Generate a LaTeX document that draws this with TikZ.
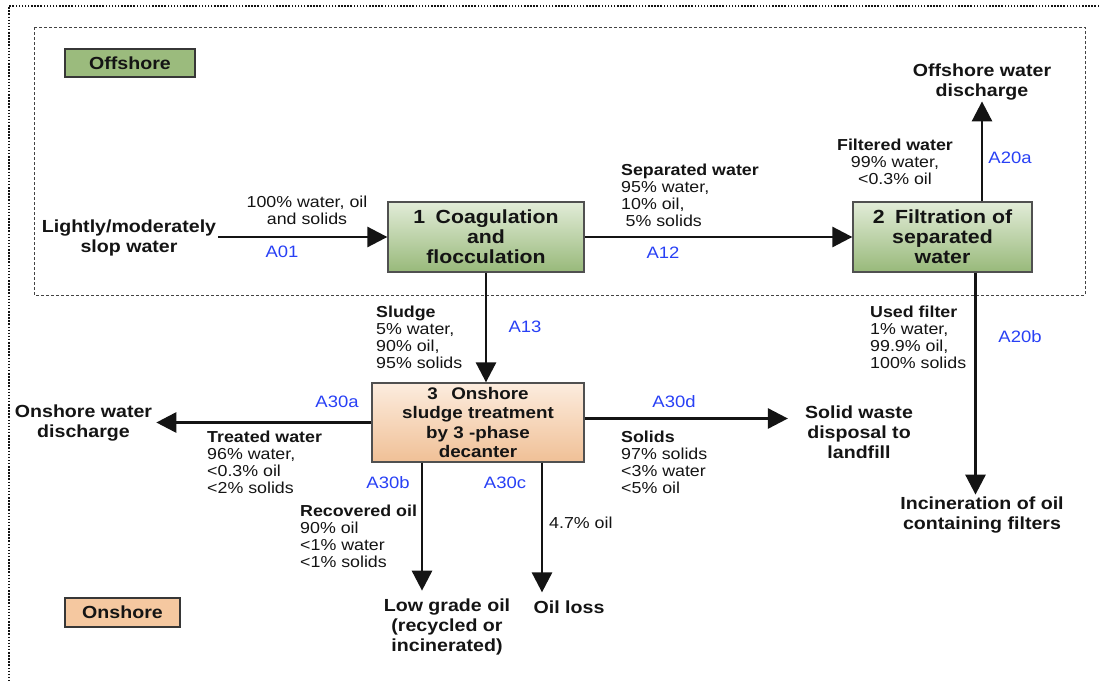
\documentclass[tikz,border=0pt]{standalone}
\usepackage{fontspec}
\setmainfont{Liberation Sans}[FakeStretch=1.12]
\usetikzlibrary{arrows.meta}

\definecolor{ink}{RGB}{20,20,20}
\definecolor{flowblue}{RGB}{40,64,245}
\definecolor{grnTop}{RGB}{226,236,216}
\definecolor{grnBot}{RGB}{152,185,122}
\definecolor{orgTop}{RGB}{252,236,222}
\definecolor{orgBot}{RGB}{240,192,150}
\definecolor{grnTag}{RGB}{155,187,125}
\definecolor{orgTag}{RGB}{245,200,160}
\definecolor{boxline}{RGB}{80,80,80}

\begin{document}
\begin{tikzpicture}[x=1pt,y=-1pt,
  flow/.style={draw=ink, line width=2.8pt, -{Triangle[length=20pt,width=20pt]}},
  proc/.style={draw=boxline, line width=1.3pt, align=center, text=ink, inner sep=0pt},
  greenproc/.style={proc, top color=grnTop, bottom color=grnBot,
    font=\fontsize{19}{20}\selectfont\bfseries},
  orangeproc/.style={proc, top color=orgTop, bottom color=orgBot,
    font=\fontsize{16.8}{19.5}\selectfont\bfseries},
  zonetag/.style={draw=ink!85, line width=1.3pt, text=ink, inner sep=0pt,
    font=\fontsize{17.5}{20}\selectfont\bfseries},
  endpoint/.style={align=center, text=ink, inner sep=2pt,
    font=\fontsize{17.5}{20}\selectfont\bfseries},
  stream/.style={align=left, anchor=west, text=ink, inner sep=0pt,
    font=\fontsize{15.9}{17}\selectfont},
  streamc/.style={align=center, text=ink, inner sep=0pt,
    font=\fontsize{15.9}{17}\selectfont},
  flowid/.style={text=flowblue, inner sep=0pt, font=\fontsize{16.5}{18}\selectfont},
  outerframe/.style={draw=ink, line width=1.5pt, dash pattern=on 1.5pt off 1.6pt},
  zoneframe/.style={draw=ink!80, line width=0.8pt, dash pattern=on 3pt off 2pt}
]
\useasboundingbox (0,0) rectangle (1099,680);

% frames
\draw[outerframe] (1099,6) -- (9,6) -- (9,680);
\draw[zoneframe] (34,27) rectangle (1085,295);

% zone tags
\node[zonetag, fill=grnTag, minimum width=130pt, minimum height=28pt] (offtag) at (130,63) {Offshore};
\node[zonetag, fill=orgTag, minimum width=115pt, minimum height=29pt] (ontag) at (122.5,612.5) {Onshore};

% process boxes
\node[greenproc, minimum width=196pt, minimum height=70pt] (box1) at (486,237)
  {1\hspace{0.55em}Coagulation\\and\\flocculation};
\node[greenproc, minimum width=179pt, minimum height=70pt] (box2) at (942.5,237)
  {2\hspace{0.55em}Filtration of\\separated\\water};
\node[orangeproc, minimum width=212pt, minimum height=79pt] (box3) at (478,422.5)
  {3\hspace{0.8em}Onshore\\sludge treatment\\by 3 -phase\\decanter};

% sources and sinks
\node[endpoint] (src) at (129,238) {Lightly/moderately\\slop water};
\node[endpoint, inner sep=1pt] (offdis) at (982,82) {Offshore water\\discharge};
\node[endpoint] (incin) at (982,515) {Incineration of oil\\containing filters};
\node[endpoint, inner sep=4pt] (ondis) at (83.5,423) {Onshore water\\discharge};
\node[endpoint] (solid) at (859,432) {Solid waste\\disposal to\\landfill};
\node[endpoint] (lowoil) at (447,627) {Low grade oil\\(recycled or\\incinerated)};
\node[endpoint] (oilloss) at (569,607) {Oil loss};

% stream compositions
\node[streamc] (c01) at (307,210) {100\% water, oil\\and solids};
\node[stream] (c12) at (621,195)
  {\textbf{Separated water}\\95\% water,\\10\% oil,\\\hspace*{0.28em}5\% solids};
\node[streamc] (c20a) at (895,161.5) {\textbf{Filtered water}\\99\% water,\\<0.3\% oil};
\node[stream] (c20b) at (870,337)
  {\textbf{Used filter}\\1\% water,\\99.9\% oil,\\100\% solids};
\node[stream] (c13) at (376,337)
  {\textbf{Sludge}\\5\% water,\\90\% oil,\\95\% solids};
\node[stream] (c30a) at (207,462.5)
  {\textbf{Treated water}\\96\% water,\\<0.3\% oil\\<2\% solids};
\node[stream] (c30d) at (621,462)
  {\textbf{Solids}\\97\% solids\\<3\% water\\<5\% oil};
\node[stream] (c30b) at (300,536)
  {\textbf{Recovered oil}\\90\% oil\\<1\% water\\<1\% solids};
\node[stream] (c30c) at (549,523) {4.7\% oil};

% flow identifiers
\node[flowid] (iA01) at (282,252) {A01};
\node[flowid] (iA12) at (663,253) {A12};
\node[flowid] (iA20a) at (1010,158) {A20a};
\node[flowid] (iA20b) at (1020,337) {A20b};
\node[flowid] (iA13) at (525,327) {A13};
\node[flowid] (iA30a) at (337,402) {A30a};
\node[flowid] (iA30d) at (674,402) {A30d};
\node[flowid] (iA30b) at (388,483) {A30b};
\node[flowid] (iA30c) at (505,483) {A30c};

% flows
\draw[flow] (src.east |- box1.west) -- (box1.west);
\draw[flow] (box1.east) -- (box2.west);
\draw[flow] (box2.north -| offdis.south) -- (offdis.south);
\draw[flow] ([xshift=33pt]box2.south) -- ([xshift=33pt]box2.south |- incin.north);
\draw[flow] (box1.south) -- (box1.south |- box3.north);
\draw[flow] (box3.west) -- (box3.west -| ondis.east);
\draw[flow] ([yshift=4pt]box3.east) -- ([xshift=-15pt,yshift=4pt]box3.east -| solid.west);
\draw[flow, shorten >=6pt] ([xshift=-56pt]box3.south) -- ([xshift=-56pt]box3.south |- lowoil.north);
\draw[flow, shorten >=6pt] ([xshift=64pt]box3.south) -- ([xshift=64pt]box3.south |- oilloss.north);
\end{tikzpicture}
\end{document}
